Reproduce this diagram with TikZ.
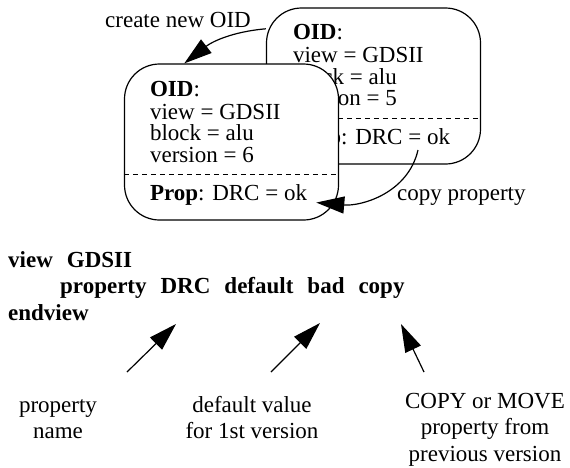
\documentclass[tikz,border=0pt]{standalone}
\usepackage{fontspec}
\setmainfont{Liberation Serif}
\usetikzlibrary{arrows.meta, positioning, calc}

\tikzset{
  oidbox/.style={draw, line width=1.2pt, rounded corners=35pt, minimum width=214pt, minimum height=156pt, inner sep=0pt},
  boxtext/.style={anchor=north west, align=left, inner sep=0pt, font=\fontsize{23}{21.7}\selectfont},
  plaintext/.style={anchor=base west, inner sep=0pt, font=\fontsize{23}{26.5}\selectfont},
  notetext/.style={anchor=north, align=center, inner sep=0pt, font=\fontsize{23}{26.5}\selectfont},
  sepline/.style={line width=0.9pt, dash pattern=on 5pt off 4pt},
  bigarrow/.style={line width=1.2pt, -{Triangle[length=28pt, width=17pt]}},
}
\newcommand{\kwgap}{\hspace{14pt}}

\begin{document}
\begin{tikzpicture}[x=1pt, y=-1pt]
  \useasboundingbox (0,0) rectangle (570,467);

  % previous version, behind
  \node[oidbox] (oldbox) at (373.5,86) {};
  \node[boxtext] (oldoid) at ($(oldbox.north west)+(27,17)$) {\strut\textbf{OID}:\\view = GDSII\\block = alu\\version = 5};
  \draw[sepline] ($(oldbox.north west)+(0,111)$) -- ($(oldbox.north east)+(0,111)$);
  \node[boxtext] (oldprop) at ($(oldbox.north west)+(27,121)$) {\strut\textbf{Prop}: DRC = ok};

  % new version, in front
  \node[oidbox, fill=white] (newbox) at (231.5,142) {};
  \node[boxtext] (newoid) at ($(newbox.north west)+(26,17.5)$) {\strut\textbf{OID}:\\view = GDSII\\block = alu\\version = 6};
  \draw[sepline] ($(newbox.north west)+(0,111)$) -- ($(newbox.north east)+(0,111)$);
  \node[boxtext] (newprop) at ($(newbox.north west)+(26,121)$) {\strut\textbf{Prop}: DRC = ok};

  % what happens between the versions
  \node[plaintext] (createlbl) at (105,27) {create new OID};
  \node[plaintext] (copylbl) at (397,200) {copy property};
  \draw[bigarrow] (oldbox.152) to[out=185, in=38] (newbox.121);
  \coordinate (copyfrom) at (418,150);
  \draw[bigarrow] (copyfrom) to[out=257, in=-5] ([xshift=9pt, yshift=-2pt]newprop.base east);

  % the view statement
  \node[plaintext] (viewline) at (8,267) {\textbf{view\kwgap GDSII}};
  \node[plaintext] (propline) at (60,293) {\textbf{property\kwgap DRC\kwgap default\kwgap bad\kwgap copy}};
  \node[plaintext] (endline) at (8,320) {\textbf{endview}};

  % notes
  \node[notetext] (namenote) at (58,393.5) {\strut property\\name};
  \node[notetext] (defnote) at (252,393.5) {\strut default value\\for 1st version};
  \node[notetext] (copynote) at (485,389.5) {\strut COPY or MOVE\\property from\\previous version};

  \coordinate (namefrom) at (127,372);
  \coordinate (nameto) at (176,324);
  \coordinate (deffrom) at (271,372);
  \coordinate (defto) at (320,323);
  \coordinate (modefrom) at (424,372);
  \coordinate (modeto) at (401,324);
  \draw[bigarrow] (namefrom) -- (nameto);
  \draw[bigarrow] (deffrom) -- (defto);
  \draw[bigarrow] (modefrom) -- (modeto);
\end{tikzpicture}
\end{document}
